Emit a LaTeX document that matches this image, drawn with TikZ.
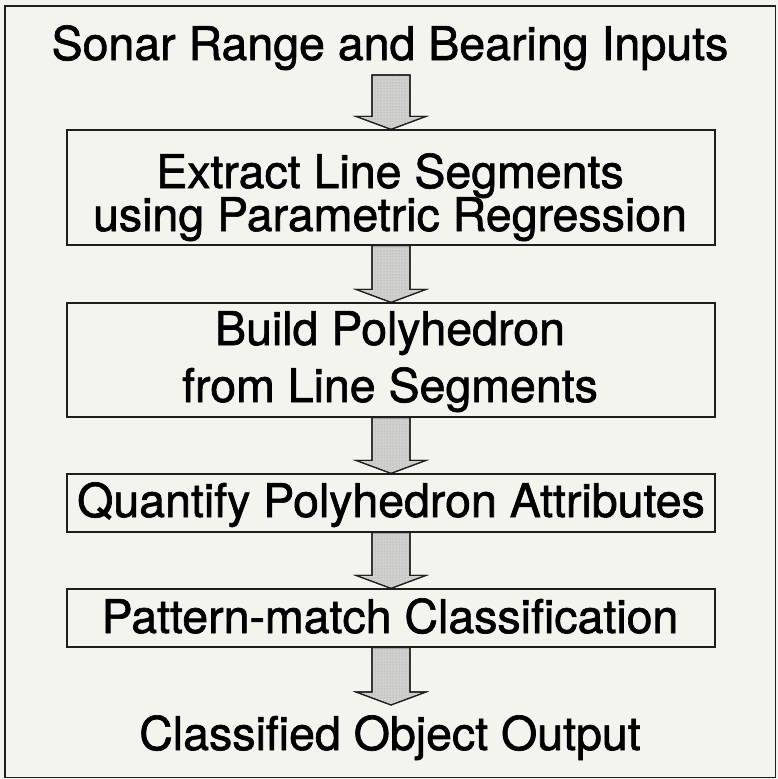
\documentclass[tikz,border=0pt]{standalone}
\usepackage{fontspec}
\setmainfont[FakeBold=1.4]{TeX Gyre Heros}
\usetikzlibrary{calc,patterns}
\definecolor{paper}{RGB}{244,244,238}
\definecolor{ink}{RGB}{30,30,30}
\definecolor{stipple}{RGB}{208,208,206}
\tikzset{
  stagebox/.style={draw=ink, line width=1.2pt, rectangle, inner sep=0pt,
    minimum width=648pt},
  label/.style={anchor=base, inner sep=0pt, text=black,
    font=\fontsize{46.5}{47}\selectfont},
  flowarrow/.style={draw=ink, line width=1.1pt, line join=miter, fill=stipple}
}
% hollow block arrow from one named point down to another
\newcommand{\blockarrow}[2]{%
  \path[flowarrow] let \p1=(#1), \p2=(#2) in
    (\x1-19pt,\y1) -- (\x1+19pt,\y1) -- (\x1+19pt,\y2+13pt)
    -- (\x1+35pt,\y2+13pt) -- (\x1,\y2) -- (\x1-35pt,\y2+13pt)
    -- (\x1-19pt,\y2+13pt) -- cycle;
  \path[pattern=dots, pattern color=gray!75] let \p1=(#1), \p2=(#2) in
    (\x1-19pt,\y1) -- (\x1+19pt,\y1) -- (\x1+19pt,\y2+13pt)
    -- (\x1+35pt,\y2+13pt) -- (\x1,\y2) -- (\x1-35pt,\y2+13pt)
    -- (\x1-19pt,\y2+13pt) -- cycle;
  \path[draw=ink, line width=1.1pt] let \p1=(#1), \p2=(#2) in
    (\x1-19pt,\y1) -- (\x1+19pt,\y1) -- (\x1+19pt,\y2+13pt)
    -- (\x1+35pt,\y2+13pt) -- (\x1,\y2) -- (\x1-35pt,\y2+13pt)
    -- (\x1-19pt,\y2+13pt) -- cycle;
}
\begin{document}
\begin{tikzpicture}[x=1pt,y=-1pt]
  \useasboundingbox (0,0) rectangle (778,779);
  \fill[paper] (0,0) rectangle (778,779);
  \draw[ink, line width=1.8pt] (5,6) rectangle (775.5,777.5);

  % stage boxes
  \node[stagebox, minimum height=115pt] (b1) at (391,187.5) {};
  \node[stagebox, minimum height=114pt] (b2) at (391,360) {};
  \node[stagebox, minimum height=58pt]  (b3) at (391,503) {};
  \node[stagebox, minimum height=58pt]  (b4) at (391,618) {};

  % texts
  \node[label] (tin) at (390,60) {Sonar Range and Bearing Inputs};
  \node[label] (t1a) at (390,188) {Extract Line Segments};
  \node[label] (t1b) at (390,231) {using Parametric Regression};
  \node[label] (t2a) at (390,345) {Build Polyhedron};
  \node[label] (t2b) at (390,402) {from Line Segments};
  \node[label] (t3) at (391,517) {Quantify Polyhedron Attributes};
  \node[label] (t4) at (390,633) {Pattern-match Classification};
  \node[label] (tout) at (390,750) {Classified Object Output};

  % connectors
  \coordinate (a0) at (391,75);
  \coordinate (a5) at (391,705);
  \blockarrow{a0}{b1.north}
  \blockarrow{b1.south}{b2.north}
  \blockarrow{b2.south}{b3.north}
  \blockarrow{b3.south}{b4.north}
  \blockarrow{b4.south}{a5}
\end{tikzpicture}
\end{document}
